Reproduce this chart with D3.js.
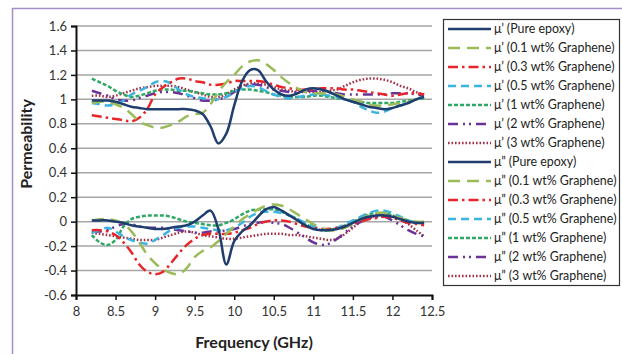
<!DOCTYPE html>
<html>
<head>
<meta charset="utf-8">
<script src="https://cdn.jsdelivr.net/npm/d3@7"></script>
<style>
  body { margin: 0; background: #fff; }
  svg { display: block; font-family: Lato, "Open Sans", Arial, sans-serif; }
  .grid line { stroke: #a6a6a6; stroke-width: 1.5; }
  .tick text { fill: #333; font-size: 13px; font-family: Lato, Arial, sans-serif; }
</style>
</head>
<body>
<svg id="myGraph" width="622" height="354"></svg>
<script>
var svgWidth = 622;
var svgHeight = 354;

// frequency points (GHz)
var freq = [8.2, 8.3, 8.4, 8.5, 8.6, 8.7, 8.8, 8.9, 9.0, 9.1, 9.2, 9.3, 9.4, 9.5, 9.6, 9.7, 9.8, 9.9,
  10.0, 10.1, 10.2, 10.3, 10.4, 10.5, 10.6, 10.7, 10.8, 10.9, 11.0, 11.1, 11.2, 11.3, 11.4, 11.5,
  11.6, 11.7, 11.8, 11.9, 12.0, 12.1, 12.2, 12.3, 12.4];

var xTicks = [8, 8.5, 9, 9.5, 10, 10.5, 11, 11.5, 12, 12.5];
var yTicks = [-0.6, -0.4, -0.2, 0, 0.2, 0.4, 0.6, 0.8, 1, 1.2, 1.4, 1.6];

var labels = ['Pure epoxy', '0.1 wt% Graphene', '0.3 wt% Graphene', '0.5 wt% Graphene',
  '1 wt% Graphene', '2 wt% Graphene', '3 wt% Graphene'];

// real part
var muReal0 = [0.99, 0.99, 0.99, 0.98, 0.96, 0.94, 0.93, 0.92, 0.92, 0.92, 0.92, 0.92, 0.92, 0.91, 0.88, 0.78, 0.64, 0.72,
  0.95, 1.15, 1.24, 1.24, 1.15, 1.08, 1.04, 1.03, 1.05, 1.08, 1.09, 1.08, 1.06, 1.03, 1.0, 0.98,
  0.96, 0.94, 0.93, 0.92, 0.93, 0.95, 0.97, 1.0, 1.02];
var muReal01 = [0.97, 0.98, 0.98, 0.96, 0.93, 0.88, 0.82, 0.79, 0.77, 0.77, 0.79, 0.82, 0.86, 0.88, 0.89, 0.96, 1.06, 1.14,
  1.2, 1.27, 1.31, 1.32, 1.29, 1.24, 1.18, 1.13, 1.09, 1.06, 1.05, 1.05, 1.05, 1.04, 1.02, 1.0,
  0.98, 0.96, 0.95, 0.95, 0.96, 0.97, 0.98, 1.0, 1.02];
var muReal03 = [0.87, 0.86, 0.85, 0.84, 0.83, 0.82, 0.85, 0.92, 1.04, 1.1, 1.14, 1.17, 1.17, 1.15, 1.14, 1.12, 1.12, 1.13,
  1.15, 1.15, 1.15, 1.15, 1.14, 1.12, 1.1, 1.09, 1.08, 1.08, 1.08, 1.09, 1.09, 1.09, 1.08, 1.08,
  1.07, 1.06, 1.05, 1.04, 1.03, 1.04, 1.05, 1.05, 1.04];
var muReal05 = [0.97, 0.96, 0.95, 0.96, 0.99, 1.04, 1.07, 1.1, 1.14, 1.15, 1.13, 1.08, 1.04, 1.02, 1.01, 1.0, 1.0, 1.02,
  1.06, 1.09, 1.11, 1.1, 1.07, 1.04, 1.02, 1.01, 1.02, 1.03, 1.04, 1.04, 1.03, 1.02, 1.0, 0.98,
  0.94, 0.91, 0.89, 0.9, 0.93, 0.95, 0.97, 1.0, 1.02];
var muReal1 = [1.17, 1.14, 1.11, 1.07, 1.04, 1.02, 1.03, 1.05, 1.07, 1.08, 1.08, 1.07, 1.07, 1.06, 1.05, 1.04, 1.04, 1.05,
  1.07, 1.08, 1.08, 1.07, 1.06, 1.04, 1.03, 1.02, 1.02, 1.02, 1.03, 1.03, 1.02, 1.01, 1.0, 0.99,
  0.98, 0.97, 0.97, 0.97, 0.97, 0.98, 0.99, 1.0, 1.01];
var muReal2 = [1.07, 1.05, 1.03, 1.0, 0.99, 0.99, 1.01, 1.03, 1.05, 1.06, 1.06, 1.05, 1.03, 1.01, 0.99, 0.99, 1.0, 1.02,
  1.06, 1.1, 1.12, 1.12, 1.1, 1.08, 1.07, 1.06, 1.06, 1.07, 1.07, 1.07, 1.06, 1.05, 1.04, 1.04,
  1.04, 1.04, 1.04, 1.04, 1.05, 1.05, 1.05, 1.04, 1.03];
var muReal3 = [1.03, 1.03, 1.02, 1.03, 1.05, 1.07, 1.09, 1.1, 1.11, 1.11, 1.11, 1.1, 1.08, 1.06, 1.04, 1.02, 1.02, 1.04,
  1.08, 1.11, 1.13, 1.13, 1.12, 1.1, 1.08, 1.07, 1.06, 1.06, 1.06, 1.06, 1.07, 1.08, 1.11, 1.14,
  1.16, 1.17, 1.17, 1.16, 1.14, 1.11, 1.09, 1.06, 1.04];

// imaginary part
var muImag0 = [0.01, 0.01, 0.01, 0.0, -0.01, -0.03, -0.04, -0.05, -0.06, -0.06, -0.05, -0.04, -0.03, 0.0, 0.05, 0.09, -0.06, -0.35,
  -0.16, -0.08, -0.03, 0.04, 0.1, 0.12, 0.09, 0.05, 0.01, -0.03, -0.06, -0.07, -0.07, -0.06, -0.04, -0.01,
  0.02, 0.04, 0.05, 0.05, 0.04, 0.02, 0.0, -0.01, -0.01];
var muImag01 = [0.01, 0.02, 0.02, 0.01, -0.02, -0.08, -0.17, -0.27, -0.34, -0.39, -0.42, -0.43, -0.38, -0.29, -0.24, -0.21, -0.16, -0.1,
  -0.04, 0.02, 0.06, 0.1, 0.13, 0.14, 0.13, 0.1, 0.06, 0.02, -0.02, -0.05, -0.07, -0.07, -0.05, -0.02,
  0.02, 0.05, 0.07, 0.07, 0.05, 0.03, 0.01, 0.0, 0.0];
var muImag03 = [-0.07, -0.07, -0.08, -0.11, -0.17, -0.25, -0.35, -0.41, -0.43, -0.41, -0.34, -0.26, -0.19, -0.14, -0.11, -0.1, -0.1, -0.1,
  -0.09, -0.07, -0.05, -0.02, 0.0, 0.01, 0.01, 0.0, -0.02, -0.04, -0.05, -0.06, -0.06, -0.05, -0.04, -0.02,
  0.0, 0.02, 0.03, 0.04, 0.03, 0.01, -0.01, -0.02, -0.03];
var muImag05 = [-0.09, -0.07, -0.05, -0.08, -0.12, -0.15, -0.17, -0.18, -0.15, -0.11, -0.07, -0.05, -0.04, -0.04, -0.05, -0.06, -0.07, -0.07,
  -0.05, -0.01, 0.04, 0.07, 0.08, 0.08, 0.07, 0.05, 0.02, -0.01, -0.04, -0.06, -0.06, -0.05, -0.02, 0.01,
  0.04, 0.07, 0.09, 0.09, 0.07, 0.04, 0.01, -0.01, -0.01];
var muImag1 = [-0.11, -0.17, -0.19, -0.15, -0.04, 0.02, 0.04, 0.05, 0.05, 0.05, 0.04, 0.02, 0.0, -0.01, -0.02, -0.03, -0.03, -0.01,
  0.02, 0.06, 0.09, 0.1, 0.1, 0.1, 0.08, 0.05, 0.02, -0.02, -0.05, -0.07, -0.07, -0.05, -0.03, 0.0,
  0.03, 0.06, 0.07, 0.07, 0.05, 0.03, 0.01, -0.01, -0.01];
var muImag2 = [-0.08, -0.08, -0.07, -0.04, -0.02, -0.02, -0.04, -0.05, -0.05, -0.05, -0.06, -0.07, -0.08, -0.09, -0.09, -0.08, -0.08, -0.07,
  -0.06, -0.04, -0.02, -0.01, 0.0, -0.01, -0.02, -0.05, -0.09, -0.13, -0.17, -0.19, -0.18, -0.14, -0.09, -0.04,
  0.0, 0.03, 0.04, 0.04, 0.01, -0.03, -0.07, -0.1, -0.12];
var muImag3 = [-0.09, -0.1, -0.11, -0.12, -0.13, -0.14, -0.15, -0.15, -0.15, -0.13, -0.11, -0.09, -0.08, -0.09, -0.11, -0.12, -0.13, -0.14,
  -0.14, -0.13, -0.12, -0.11, -0.1, -0.1, -0.1, -0.11, -0.11, -0.12, -0.13, -0.14, -0.15, -0.14, -0.1, -0.05,
  0.0, 0.03, 0.05, 0.06, 0.05, 0.02, -0.02, -0.07, -0.12];

var colors = ['#1f3d6e', '#9bbb59', '#e8262a', '#3cb4e0', '#2fa866', '#6a3396', '#a3324a'];
var dashes = ['none', '12,7', '10,4,2.5,4', '8,5', '4,2', '10,5,2,4,2,5', '1.6,1.9'];

var realSeries = [muReal0, muReal01, muReal03, muReal05, muReal1, muReal2, muReal3];
var imagSeries = [muImag0, muImag01, muImag03, muImag05, muImag1, muImag2, muImag3];

var series = [];
realSeries.forEach(function(v, i) {
  series.push({ name: 'μ’ (' + labels[i] + ')', values: v, color: colors[i], dash: dashes[i] });
});
imagSeries.forEach(function(v, i) {
  series.push({ name: 'μ” (' + labels[i] + ')', values: v, color: colors[i], dash: dashes[i] });
});

var svg = d3.select('#myGraph');

// outer frame
svg.append('rect')
  .attr('x', 12.5).attr('y', 8.5)
  .attr('width', 640).attr('height', 380)
  .attr('fill', '#fff')
  .attr('stroke', '#a48fcc')
  .attr('stroke-width', 1.5);

var x = d3.scaleLinear().domain([8, 12.5]).range([76, 432]);
var y = d3.scaleLinear().domain([-0.6, 1.6]).range([295, 26]);

// gridlines
svg.append('g')
  .attr('class', 'grid')
  .selectAll('line')
  .data(yTicks.filter(function(d) { return d > -0.6; }))
  .enter()
  .append('line')
  .attr('x1', x(8))
  .attr('x2', x(12.5))
  .attr('y1', function(d) { return y(d); })
  .attr('y2', function(d) { return y(d); });

var fmt = function(d) { return String(+d.toFixed(1)); };

var yAxis = svg.append('g')
  .attr('transform', 'translate(' + x(8) + ',0)')
  .call(d3.axisLeft(y).tickValues(yTicks).tickFormat(fmt).tickSizeOuter(0).tickSize(5).tickPadding(4));

var xAxis = svg.append('g')
  .attr('transform', 'translate(0,' + y(-0.6) + ')')
  .call(d3.axisBottom(x).tickValues(xTicks).tickFormat(fmt).tickSizeOuter(0).tickSize(5).tickPadding(7));

[xAxis, yAxis].forEach(function(a) {
  a.select('.domain').attr('stroke', '#111').attr('stroke-width', 2);
  a.selectAll('.tick line').attr('stroke', '#111').attr('stroke-width', 1.5);
});

// series lines
var line = d3.line()
  .x(function(d) { return x(d[0]); })
  .y(function(d) { return y(d[1]); })
  .curve(d3.curveCatmullRom.alpha(0.5));

svg.append('g')
  .selectAll('path')
  .data(series.slice().reverse())
  .enter()
  .append('path')
  .attr('fill', 'none')
  .attr('stroke', function(d) { return d.color; })
  .attr('stroke-width', 2.5)
  .attr('stroke-dasharray', function(d) { return d.dash; })
  .attr('d', function(d) {
    return line(freq.map(function(f, i) { return [f, d.values[i]]; }));
  });

// axis titles
svg.append('text')
  .attr('x', 254).attr('y', 348)
  .attr('text-anchor', 'middle')
  .attr('font-size', '16px')
  .attr('font-weight', 'bold')
  .attr('fill', '#222')
  .text('Frequency (GHz)');

svg.append('text')
  .attr('transform', 'translate(32,144) rotate(-90)')
  .attr('text-anchor', 'middle')
  .attr('font-size', '16px')
  .attr('font-weight', 'bold')
  .attr('fill', '#222')
  .text('Permeability');

// legend
var legend = svg.append('g');
legend.append('rect')
  .attr('x', 443.5).attr('y', 19.5)
  .attr('width', 176).attr('height', 266)
  .attr('fill', '#fff')
  .attr('stroke', '#333')
  .attr('stroke-width', 1.2);

var rows = legend.selectAll('g.row')
  .data(series)
  .enter()
  .append('g')
  .attr('class', 'row')
  .attr('transform', function(d, i) { return 'translate(0,' + (29 + i * 19) + ')'; });

rows.append('line')
  .attr('x1', 448).attr('x2', 491)
  .attr('stroke', function(d) { return d.color; })
  .attr('stroke-width', 2.5)
  .attr('stroke-dasharray', function(d) { return d.dash; });

rows.append('text')
  .attr('x', 494)
  .attr('dy', '0.35em')
  .attr('font-size', '12.4px')
  .attr('fill', '#222')
  .text(function(d) { return d.name; });
</script>
</body>
</html>
